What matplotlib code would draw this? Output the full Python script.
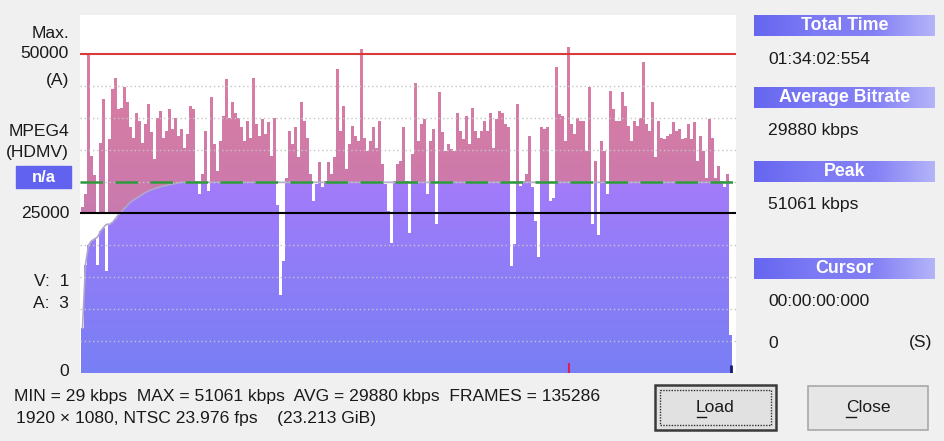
import numpy as np
import matplotlib
matplotlib.use("Agg")
from matplotlib import pyplot as plt
from matplotlib.colors import LinearSegmentedColormap
from matplotlib.patches import Rectangle

# bitrate samples (kbps / 1000), one per interval across the movie
bitrate = [
    26, 28, 50.2, 34, 31, 17, 36, 43, 16, 36.6,
    44.5, 46.3, 41.4, 41.6, 44.8, 42.4, 38.5, 36.9, 40.8, 39.5,
    36.1, 39, 42.1, 37.7, 33.5, 40, 41.1, 36.9, 38, 41.4,
    38.2, 40, 37.2, 38.2, 35.3, 37.4, 41.9, 41.4, 30.1, 28,
    31.2, 38, 28.5, 43.2, 35.9, 31.7, 36.4, 40.3, 46.1, 40,
    42.4, 40.8, 40, 38.5, 36.4, 39.5, 36.9, 46.3, 39, 37.2,
    39.8, 37.4, 39.3, 34, 40, 26.4, 12.3, 17.5, 30.6, 38,
    35.9, 38.5, 33.8, 42.4, 39.5, 36.9, 31.2, 27, 29.6, 33,
    29.1, 30.1, 33, 31.2, 33.8, 47.6, 38, 41.9, 32, 35.9,
    38.7, 37.2, 36.4, 50.7, 36.9, 34.8, 36.4, 38.5, 35.3, 39.5,
    32.7, 29.6, 25.4, 20.4, 30.1, 32.7, 33.2, 38.5, 30.1, 22,
    34.3, 45.5, 36.4, 39, 39.8, 28, 36.4, 38.2, 23.3, 44,
    37.7, 34.8, 35.9, 35.1, 34.8, 40.8, 38, 36.6, 40.3, 35.9,
    41.6, 38, 36.9, 38, 39.5, 38, 40.8, 35.3, 39.8, 41.1,
    40.8, 39, 38.5, 16.8, 20.2, 42.1, 29.3, 30.1, 31.2, 37.2,
    29.1, 23.8, 18.1, 38.5, 38.2, 38.5, 27, 27.5, 47.9, 40.6,
    40.3, 36.4, 51.061, 39, 37.4, 40, 39.5, 39.5, 34.8, 44.8,
    23.3, 33.2, 21.7, 36.4, 34.8, 28, 44.2, 41.4, 39.5, 39.5,
    44, 41.9, 38.7, 36.4, 39.5, 38.7, 40, 48.7, 39, 38,
    42.4, 33.8, 39.5, 36.9, 36.6, 37.2, 37.4, 39.3, 38, 38.2,
    36.6, 36.9, 39, 36.6, 39.3, 33.2, 37.2, 34.8, 30.6, 39.8,
    36.9, 30.6, 32.5, 30.1, 29.1, 31.2, 6,
]
# running average at the start of the movie (kbps / 1000)
avg_ramp = [
    7, 17, 20, 20.7, 21, 21.3, 22.2, 22.8, 23.3, 23.3,
    23.6, 24.2, 24.8, 25.3, 25.8, 26.3, 26.8, 27.1, 27.4, 27.7,
    28.0, 28.3, 28.5, 28.7, 28.9, 29.0, 29.2, 29.3, 29.4, 29.5,
    29.6, 29.7, 29.8,
]
AVG = 29880
MAX_LINE = 50000
MID_LINE = 25000

left_labels = ["Max.", "50000", "(A)", "MPEG4", "(HDMV)", "25000", "V:  1", "A:  3", "0"]
info_titles = ["Total Time", "Average Bitrate", "Peak", "Cursor"]
info_values = ["01:34:02:554", "29880 kbps", "51061 kbps", "00:00:00:000"]
stats_line = "MIN = 29 kbps  MAX = 51061 kbps  AVG = 29880 kbps  FRAMES = 135286"
format_line = "1920 \u00d7 1080, NTSC 23.976 fps    (23.213 GiB)"

FONT = "Liberation Sans"
FS = 12.6
INK = "#1a1a1a"


def gradient_fill(ax, x, y, colors, y0, y1, zorder):
    poly = ax.fill_between(x, 0, y, step="post", color="none", zorder=zorder)
    cmap = LinearSegmentedColormap.from_list("g", colors)
    grad = np.linspace(0, 1, 256).reshape(-1, 1)
    im = ax.imshow(grad, extent=[x[0], x[-1], y0, y1], origin="lower",
                   aspect="auto", cmap=cmap, zorder=zorder, interpolation="bilinear")
    im.set_clip_path(poly.get_paths()[0], poly.get_transform())
    return im


def draw_chart(fig):
    rate = np.array(bitrate) * 1000
    n = len(rate)
    ramp = np.array(avg_ramp) * 1000
    avg_curve = np.concatenate([ramp, np.full(n - len(ramp), AVG)])
    base = np.minimum(rate, avg_curve)

    x = np.arange(n + 1)
    y_rate = np.append(rate, rate[-1])
    y_base = np.append(base, base[-1])

    ax = fig.add_axes([80 / 945, 1 - 373 / 441, 656 / 945, 358 / 441])
    ax.set_facecolor("white")
    ax.set_xlim(-1 / 3, 655 / 3)
    ax.set_ylim(0, 56100)
    ax.set_xticks([])
    ax.set_yticks([])
    for s in ax.spines.values():
        s.set_visible(False)

    gradient_fill(ax, x, y_rate, ["#c97aae", "#de7d9e"], 25000, 52000, 1)
    gradient_fill(ax, x, y_base, ["#787ff4", "#a37bfa"], 0, 30000, 2)

    ax.plot(x[:-1] + 0.5, avg_curve, color="#b0a8cc", lw=1.2, zorder=3)

    for g in range(5000, 50000, 5000):
        if g == MID_LINE:
            continue
        ax.axhline(g, color="#c4c4cc", lw=1, ls=(0, (1, 2)), zorder=4)

    ax.axhline(AVG, color="#2f9a3c", lw=1.8, ls=(0, (9, 5)), zorder=5)
    ax.axhline(MAX_LINE, color="#d83a3a", lw=1.5, zorder=5)
    ax.axhline(MID_LINE, color="black", lw=1.5, zorder=5)

    peak = int(np.argmax(rate))
    ax.vlines(peak + 0.5, 0, 1500, color="#e0205a", lw=1.5, zorder=6)
    ax.vlines(n - 0.3, 0, 1300, color="#1a1a6a", lw=2, zorder=6)


def draw_panel(fig):
    ov = fig.add_axes([0, 0, 1, 1], zorder=10)
    ov.axis("off")
    ov.patch.set_alpha(0)

    ys = [34, 54, 80, 131, 153, 213, 282, 303, 371]
    for lab, y in zip(left_labels, ys):
        ov.text(69, y, lab, ha="right", va="center", fontsize=FS, family=FONT, color=INK)

    ov.add_patch(Rectangle((16, 166), 55, 22, color="#6262f0"))
    ov.text(43.5, 177, "n/a", ha="center", va="center", fontsize=12,
            family=FONT, weight="bold", color="white")

    head_cmap = LinearSegmentedColormap.from_list(
        "h", ["#6666f0", "#7c7af4", "#8480f5", "#b4b4f9"])
    grad = np.linspace(0, 1, 256).reshape(1, -1)
    head_y = [15, 87, 161, 258]
    val_y = [59, 130, 205, 302]
    for title, value, hy, vy in zip(info_titles, info_values, head_y, val_y):
        ov.imshow(grad, extent=[754, 935, hy + 21, hy], cmap=head_cmap,
                  aspect="auto", zorder=1)
        ov.text(845, hy + 10.5, title, ha="center", va="center", fontsize=12.8,
                family=FONT, weight="bold", color="white", zorder=2)
        ov.text(768, vy, value, ha="left", va="center", fontsize=FS,
                family=FONT, color=INK)
    ov.text(768, 343, "0", ha="left", va="center", fontsize=FS, family=FONT, color=INK)
    ov.text(932, 343, "(S)", ha="right", va="center", fontsize=FS, family=FONT, color=INK)

    ov.text(14, 397, stats_line, ha="left", va="center", fontsize=FS, family=FONT, color=INK)
    ov.text(16, 418, format_line, ha="left", va="center", fontsize=FS, family=FONT, color=INK)

    # buttons
    ov.add_patch(Rectangle((655, 385), 121, 45, facecolor="#e1e1e1",
                           edgecolor="#3a3a3a", lw=1.8))
    ov.add_patch(Rectangle((660, 390), 111, 35, facecolor="none",
                           edgecolor="#303030", lw=1, ls=(0, (1, 1))))
    ov.text(715, 408, "Load", ha="center", va="center", fontsize=FS, family=FONT, color=INK)
    ov.plot([697, 706], [417, 417], color=INK, lw=1)
    ov.add_patch(Rectangle((808, 386), 120, 44, facecolor="#e6e6e6",
                           edgecolor="#a8a8a8", lw=1.2))
    ov.text(868, 408, "Close", ha="center", va="center", fontsize=FS, family=FONT, color=INK)
    ov.plot([846, 856], [417, 417], color=INK, lw=1)

    ov.set_xlim(0, 945)
    ov.set_ylim(441, 0)


def main():
    fig = plt.figure(figsize=(9.45, 4.41), dpi=100, facecolor="#f0f0f0")
    draw_chart(fig)
    draw_panel(fig)
    fig.savefig("out.png", dpi=100, facecolor=fig.get_facecolor())


if __name__ == "__main__":
    main()
